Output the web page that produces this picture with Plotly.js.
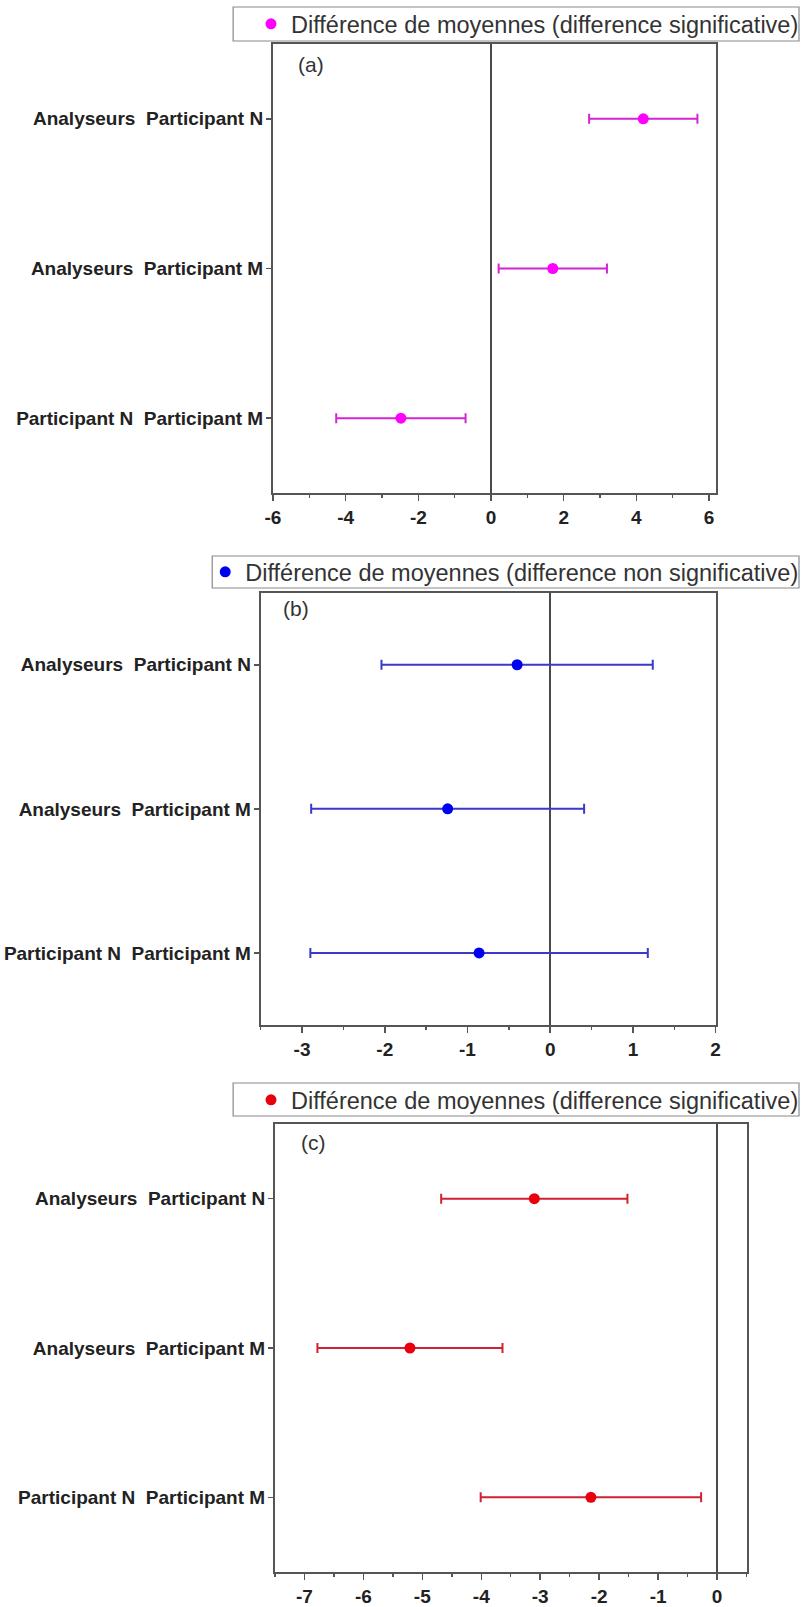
<!DOCTYPE html>
<html>
<head>
<meta charset="utf-8">
<script src="https://cdn.plot.ly/plotly-3.0.1.min.js"></script>
<style>
  html, body { margin: 0; padding: 0; background: #fff; }
  #chart { width: 804px; height: 1607px; }
</style>
</head>
<body>
<div id="chart"></div>
<script>
// Comparisons, listed bottom to top
const categories = [
  'Participant N\u00a0\u00a0Participant M',
  'Analyseurs\u00a0\u00a0Participant M',
  'Analyseurs\u00a0\u00a0Participant N'
];

// (a) significant differences
const meanA = [-2.48, 1.70, 4.19];
const errA  = [1.78, 1.49, 1.49];
// (b) non-significant differences
const meanB = [-0.86, -1.24, -0.40];
const errB  = [2.04, 1.65, 1.64];
// (c) significant differences
const meanC = [-2.14, -5.21, -3.10];
const errC  = [1.87, 1.57, 1.58];

// x tick values and labels (plain hyphen minus)
const ticksA = [-6, -4, -2, 0, 2, 4, 6];
const tickTextA = ['-6', '-4', '-2', '0', '2', '4', '6'];
const ticksB = [-3, -2, -1, 0, 1, 2];
const tickTextB = ['-3', '-2', '-1', '0', '1', '2'];
const ticksC = [-7, -6, -5, -4, -3, -2, -1, 0];
const tickTextC = ['-7', '-6', '-5', '-4', '-3', '-2', '-1', '0'];

const legendSig = 'Différence de moyennes (difference significative)';
const legendNonSig = 'Différence de moyennes (difference non significative)';
const panelLabels = ['(a)', '(b)', '(c)'];

const FONT = 'Liberation Sans, Arial, sans-serif';

function series(x, err, name, dot, bar, xa, ya, lg) {
  return {
    type: 'scatter', mode: 'markers',
    x: x, y: categories, name: name,
    xaxis: xa, yaxis: ya, legend: lg,
    marker: { color: dot, size: 11, symbol: 'circle' },
    error_x: { type: 'data', array: err, visible: true, color: bar, thickness: 2, width: 5 }
  };
}

const traces = [
  series(meanA, errA, legendSig, '#ff00ff', '#d424d4', 'x', 'y', 'legend'),
  series(meanB, errB, legendNonSig, '#0000f0', '#3a3ac8', 'x2', 'y2', 'legend2'),
  series(meanC, errC, legendSig, '#e8000f', '#cf2230', 'x3', 'y3', 'legend3')
];

const W = 804, H = 1607;
const px = v => v / W;
const py = v => 1 - v / H;

function xAxis(domain, range, tickvals, ticktext, minor, anchor) {
  return {
    domain: domain, range: range, anchor: anchor,
    tickmode: 'array', tickvals: tickvals, ticktext: ticktext,
    showgrid: false, zeroline: true, zerolinecolor: '#4a4a4a', zerolinewidth: 2,
    showline: true, linecolor: '#555', linewidth: 2, mirror: true,
    ticks: 'outside', ticklen: 6, tickwidth: 1.5, tickcolor: '#555',
    ticklabelstandoff: 0,
    minor: { tickmode: 'linear', tick0: 0, dtick: minor, ticks: 'outside', ticklen: 3,
             tickwidth: 1.5, tickcolor: '#555', showgrid: false },
    tickfont: { family: FONT, size: 19, color: '#222', weight: 'bold' },
    fixedrange: true
  };
}

function yAxis(domain, anchor) {
  return {
    domain: domain, anchor: anchor,
    type: 'category', categoryorder: 'array', categoryarray: categories,
    range: [-0.5, 2.5],
    showgrid: false, zeroline: false,
    showline: true, linecolor: '#555', linewidth: 2, mirror: true,
    ticks: 'outside', ticklen: 5, tickwidth: 1.5, tickcolor: '#555',
    ticklabelstandoff: -1,
    tickfont: { family: FONT, size: 19, color: '#222', weight: 'bold' },
    fixedrange: true
  };
}

// Legend entries float inside a framed box drawn as a shape
function legendEntry(textLeft, centerY) {
  return {
    x: px(textLeft - 40), y: py(centerY), xanchor: 'left', yanchor: 'middle',
    bgcolor: 'rgba(0,0,0,0)', borderwidth: 0,
    font: { family: FONT, size: 23.5, color: '#333' },
    itemclick: false, itemdoubleclick: false
  };
}

function frameBox(x0, y0, x1, y1) {
  return {
    type: 'rect', xref: 'paper', yref: 'paper',
    x0: px(x0), x1: px(x1), y0: py(y1), y1: py(y0),
    line: { color: '#8a8a8a', width: 1.2 }, fillcolor: 'rgba(0,0,0,0)', layer: 'below'
  };
}

function panelLabel(text, x, y) {
  return {
    text: text, xref: 'paper', yref: 'paper', x: px(x), y: py(y),
    xanchor: 'center', yanchor: 'middle', showarrow: false,
    font: { family: FONT, size: 21, color: '#333' }
  };
}

const layout = {
  width: W, height: H,
  margin: { l: 0, r: 0, t: 0, b: 0 },
  paper_bgcolor: '#fff', plot_bgcolor: '#fff',
  showlegend: true,
  xaxis:  xAxis([px(274), px(719)], [-6, 6.2], ticksA, tickTextA, 1, 'y'),
  yaxis:  yAxis([py(493), py(44)], 'x'),
  xaxis2: xAxis([px(261.7), px(718.3)], [-3.5, 2], ticksB, tickTextB, 0.5, 'y2'),
  yaxis2: yAxis([py(1025), py(592.7)], 'x2'),
  xaxis3: xAxis([px(276), px(749.3)], [-7.5, 0.5], ticksC, tickTextC, 0.5, 'y3'),
  yaxis3: yAxis([py(1572), py(1124)], 'x3'),
  legend: legendEntry(292, 24),
  legend2: legendEntry(246, 572),
  legend3: legendEntry(292, 1100),
  shapes: [
    frameBox(234, 7, 802, 41),
    frameBox(213, 556, 802, 588),
    frameBox(234, 1083, 802, 1116)
  ],
  annotations: [
    panelLabel(panelLabels[0], 312, 65),
    panelLabel(panelLabels[1], 297, 608),
    panelLabel(panelLabels[2], 315, 1142)
  ]
};

Plotly.newPlot('chart', traces, layout, { displayModeBar: false, staticPlot: true });
</script>
</body>
</html>
